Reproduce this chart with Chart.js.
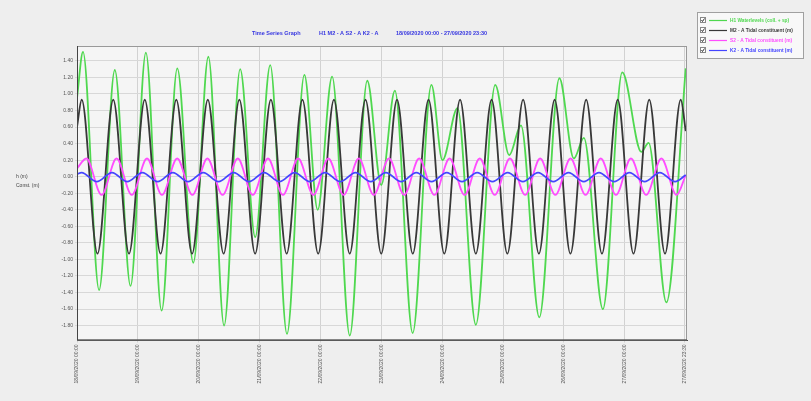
<!DOCTYPE html>
<html>
<head>
<meta charset="utf-8">
<script src="https://cdn.jsdelivr.net/npm/chart.js@4.4.1/dist/chart.umd.min.js"></script>
<style>
  html, body { margin: 0; padding: 0; background: #eeeeee; }
  canvas { display: block; }
</style>
</head>
<body>
<canvas id="tideChart" width="811" height="401"></canvas>
<script>
// hours since 18/09/2020 00:00
const xTickHours = [0, 24, 48, 72, 96, 120, 144, 168, 192, 216, 239.5];
const xTickLabels = ['18/09/2020 00:00', '19/09/2020 00:00', '20/09/2020 00:00', '21/09/2020 00:00',
  '22/09/2020 00:00', '23/09/2020 00:00', '24/09/2020 00:00', '25/09/2020 00:00',
  '26/09/2020 00:00', '27/09/2020 00:00', '27/09/2020 23:30'];
const yTicks = [1.4, 1.2, 1.0, 0.8, 0.6, 0.4, 0.2, 0, -0.2, -0.4, -0.6, -0.8, -1.0, -1.2, -1.4, -1.6, -1.8];

const seriesLabels = ['H1 Waterlevels (coll. + sp)', 'M2 - A Tidal constituent (m)',
  'S2 - A Tidal constituent (m)', 'K2 - A Tidal constituent (m)'];
const seriesColors = ['#4fd84f', '#383838', '#ff4dff', '#4545ff'];

// H1 waterlevel, turning points
const h1Hours = [0, 2.37, 8.70, 14.91, 21.11, 27.16, 33.37, 39.54, 45.87, 51.80,
  58.00, 64.33, 70.26, 76.19, 82.79, 89.64, 94.89, 100.59, 107.55, 114.43,
  119.96, 125.34, 132.34, 139.73, 144.08, 150.01, 157.25, 164.88, 170.41, 175.04,
  182.27, 190.18, 195.88, 199.83, 207.34, 214.97, 222.49, 225.37, 232.37, 240.0];
const h1Values = [0.95, 1.51, -1.37, 1.29, -1.32, 1.50, -1.62, 1.31, -1.04, 1.45,
  -1.80, 1.30, -0.73, 1.35, -1.90, 1.23, -0.40, 1.21, -1.92, 1.16,
  -0.10, 1.04, -1.89, 1.11, 0.20, 0.83, -1.79, 1.11, 0.26, 0.62,
  -1.70, 1.19, 0.22, 0.47, -1.60, 1.26, 0.30, 0.41, -1.52, 1.31];

// M2 constituent
const m2Hours = [0, 1.86, 8.07, 14.29, 20.51, 26.72, 32.94, 39.15, 45.37, 51.58,
  57.80, 64.01, 70.23, 76.44, 82.66, 88.87, 95.09, 101.30, 107.52, 113.74,
  119.95, 126.17, 132.38, 138.60, 144.81, 151.03, 157.24, 163.46, 169.67, 175.89,
  182.11, 188.32, 194.54, 200.75, 206.97, 213.18, 219.40, 225.61, 231.83, 238.04,
  240.0];
const m2Values = [0.60, 0.93, -0.93, 0.93, -0.93, 0.93, -0.93, 0.93, -0.93, 0.93,
  -0.93, 0.93, -0.93, 0.93, -0.93, 0.93, -0.93, 0.93, -0.93, 0.93,
  -0.93, 0.93, -0.93, 0.93, -0.93, 0.93, -0.93, 0.93, -0.93, 0.93,
  -0.93, 0.93, -0.93, 0.93, -0.93, 0.93, -0.93, 0.93, -0.93, 0.93,
  0.55];

// S2 constituent
const s2Hours = [0, 3.7, 9.7, 15.6, 21.6, 27.6, 33.5, 39.5, 45.5, 51.4,
  57.4, 63.4, 69.3, 75.3, 81.2, 87.2, 93.2, 99.1, 105.1, 111.1,
  117.0, 123.0, 129.0, 134.9, 140.9, 146.9, 152.8, 158.8, 164.7, 170.7,
  176.7, 182.6, 188.6, 194.6, 200.5, 206.5, 212.5, 218.4, 224.4, 230.4,
  236.4, 240.0];
const s2Values = [0.10, 0.22, -0.22, 0.22, -0.22, 0.22, -0.22, 0.22, -0.22, 0.22,
  -0.22, 0.22, -0.22, 0.22, -0.22, 0.22, -0.22, 0.22, -0.22, 0.22,
  -0.22, 0.22, -0.22, 0.22, -0.22, 0.22, -0.22, 0.22, -0.22, 0.22,
  -0.22, 0.22, -0.22, 0.22, -0.22, 0.22, -0.22, 0.22, -0.22, 0.22,
  -0.22, 0.02];

// K2 constituent
const k2Hours = [0, 1.8, 7.8, 13.8, 19.8, 25.8, 31.8, 37.8, 43.8, 49.8,
  55.8, 61.8, 67.8, 73.8, 79.8, 85.8, 91.8, 97.8, 103.8, 109.8,
  115.8, 121.8, 127.8, 133.8, 139.8, 145.8, 151.8, 157.8, 163.8, 169.8,
  175.8, 181.8, 187.8, 193.8, 199.8, 205.8, 211.8, 217.8, 223.8, 229.8,
  235.8, 240.0];
const k2Values = [0.03, 0.05, -0.06, 0.05, -0.06, 0.05, -0.06, 0.05, -0.06, 0.05,
  -0.06, 0.05, -0.06, 0.05, -0.06, 0.05, -0.06, 0.05, -0.06, 0.05,
  -0.06, 0.05, -0.06, 0.05, -0.06, 0.05, -0.06, 0.05, -0.06, 0.05,
  -0.06, 0.05, -0.06, 0.05, -0.06, 0.05, -0.06, 0.05, -0.06, 0.05,
  -0.06, 0.02];

const allHours = [h1Hours, m2Hours, s2Hours, k2Hours];
const allValues = [h1Values, m2Values, s2Values, k2Values];

const FONT = 'Liberation Sans';

// background, frame, title, axis title and legend box
const decor = {
  id: 'decor',
  beforeDraw(chart) {
    const { ctx, chartArea: a } = chart;
    ctx.save();
    ctx.fillStyle = '#eeeeee';
    ctx.fillRect(0, 0, chart.width, chart.height);
    ctx.fillStyle = '#f5f5f5';
    ctx.fillRect(a.left, a.top, a.right - a.left, a.bottom - a.top);
    ctx.restore();
  },
  afterDraw(chart) {
    const { ctx, chartArea: a } = chart;
    ctx.save();
    // frame
    ctx.strokeStyle = '#999999';
    ctx.lineWidth = 1;
    ctx.strokeRect(a.left + 0.5, a.top + 0.5, a.right - a.left - 1, a.bottom - a.top - 1);
    ctx.strokeStyle = '#444444';
    ctx.beginPath();
    ctx.moveTo(a.left + 0.5, a.top);
    ctx.lineTo(a.left + 0.5, a.bottom - 0.5);
    ctx.lineTo(a.right, a.bottom - 0.5);
    ctx.stroke();

    // title
    ctx.fillStyle = '#3535e0';
    ctx.font = 'bold 5.5px "' + FONT + '"';
    ctx.textBaseline = 'middle';
    ctx.textAlign = 'left';
    ctx.fillText('Time Series Graph', 252, 33);
    ctx.fillText('H1 M2 - A S2 - A K2 - A', 319, 33);
    ctx.fillText('18/09/2020 00:00 - 27/09/2020 23:30', 396, 33);

    // y axis title
    ctx.fillStyle = '#444444';
    ctx.font = '5px "' + FONT + '"';
    ctx.fillText('h (m)', 16, 177);
    ctx.fillText('Const. (m)', 16, 186);

    // legend
    ctx.fillStyle = '#f8f8f8';
    ctx.fillRect(697, 12, 106, 46);
    ctx.strokeStyle = '#a0a0a0';
    ctx.strokeRect(697.5, 12.5, 106, 46);
    chart.data.datasets.forEach((ds, i) => {
      const y = 20 + i * 10;
      ctx.strokeStyle = '#888888';
      ctx.fillStyle = '#ffffff';
      ctx.fillRect(700, y - 2.5, 5, 5);
      ctx.strokeRect(700.5, y - 2.5, 5, 5);
      ctx.strokeStyle = '#333333';
      ctx.beginPath();
      ctx.moveTo(701.5, y);
      ctx.lineTo(702.5, y + 1.5);
      ctx.lineTo(704.5, y - 1.5);
      ctx.stroke();
      ctx.strokeStyle = ds.borderColor;
      ctx.lineWidth = 1.2;
      ctx.beginPath();
      ctx.moveTo(709, y + 0.5);
      ctx.lineTo(727, y + 0.5);
      ctx.stroke();
      ctx.lineWidth = 1;
      ctx.fillStyle = ds.borderColor;
      ctx.font = 'bold 4.8px "' + FONT + '"';
      ctx.fillText(ds.label, 730, y + 0.5);
    });
    ctx.restore();
  }
};

new Chart(document.getElementById('tideChart'), {
  type: 'line',
  data: {
    datasets: seriesLabels.map((label, i) => ({
      label: label,
      data: allHours[i].map((h, j) => ({ x: h, y: allValues[i][j] })),
      borderColor: seriesColors[i],
      borderWidth: 1.8,
      pointRadius: 0,
      fill: false,
      cubicInterpolationMode: 'monotone',
      order: 4 - i
    }))
  },
  options: {
    responsive: false,
    animation: false,
    devicePixelRatio: 1,
    layout: { padding: { top: 46, right: 124, bottom: 0, left: 0 } },
    plugins: {
      legend: { display: false },
      title: { display: false },
      tooltip: { enabled: false }
    },
    scales: {
      x: {
        type: 'linear',
        min: 0,
        max: 240.5,
        afterBuildTicks: axis => { axis.ticks = xTickHours.map(v => ({ value: v })); },
        afterFit: axis => { axis.height = 60.5; },
        ticks: {
          autoSkip: false,
          minRotation: 90,
          maxRotation: 90,
          padding: 2,
          color: '#555555',
          font: { family: FONT, size: 5 },
          callback: (v, i) => xTickLabels[i]
        },
        grid: { color: '#d2d2d2', tickLength: 2 },
        border: { color: '#444444' }
      },
      y: {
        min: -1.98,
        max: 1.58,
        afterBuildTicks: axis => { axis.ticks = yTicks.map(v => ({ value: v })); },
        afterFit: axis => { axis.width = 77; },
        ticks: {
          padding: 2,
          color: '#555555',
          font: { family: FONT, size: 5 },
          callback: v => v.toFixed(2)
        },
        grid: { color: '#d8d8d8', tickLength: 2 },
        border: { color: '#444444' }
      }
    }
  },
  plugins: [decor]
});
</script>
</body>
</html>
